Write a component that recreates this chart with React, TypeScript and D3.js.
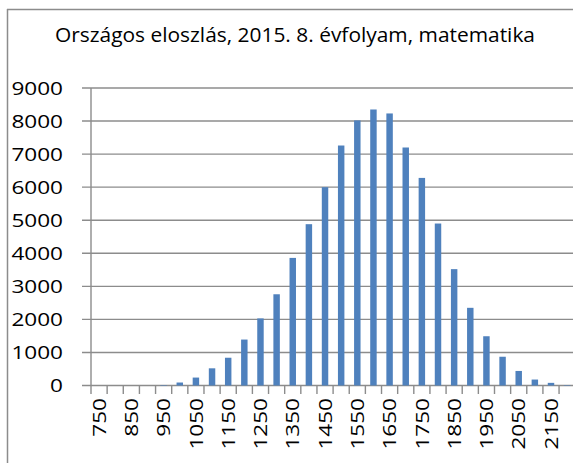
import * as d3 from "d3";

// chart values
const categories = [
  "750", "800", "850", "900", "950", "1000", "1050", "1100", "1150", "1200",
  "1250", "1300", "1350", "1400", "1450", "1500", "1550", "1600", "1650", "1700",
  "1750", "1800", "1850", "1900", "1950", "2000", "2050", "2100", "2150", "2200",
];
const counts = [
  0, 0, 0, 0, 15, 90, 240, 520, 840, 1390,
  2030, 2760, 3860, 4880, 6000, 7260, 8020, 8350, 8230, 7200,
  6280, 4900, 3520, 2350, 1490, 870, 440, 180, 80, 15,
];
const yTicks = [0, 1000, 2000, 3000, 4000, 5000, 6000, 7000, 8000, 9000];
const title = "Országos eloszlás, 2015. 8. évfolyam, matematika";

export default function App() {
  const width = 573;
  const height = 463;
  const left = 91;
  const right = 575.2;
  const top = 88;
  const bottom = 385.5;

  const font = "'Open Sans', 'DejaVu Sans', sans-serif";
  const grid = "#8c8c8c";

  const x = d3
    .scaleBand()
    .domain(categories)
    .range([left, right])
    .paddingInner(0.6)
    .paddingOuter(0.3);

  const y = d3.scaleLinear().domain([0, 9000]).range([bottom, top]);

  const step = x.step();
  const center = (c) => (x(c) ?? 0) + x.bandwidth() / 2;

  return (
    <svg
      width={width}
      height={height}
      style={{ position: "absolute", left: 0, top: 0, background: "#fff" }}
    >
      {/* frame */}
      <line x1={7.5} x2={7.5} y1={9} y2={470} stroke={grid} strokeWidth={1.5} />
      <line x1={7} x2={580} y1={9.5} y2={9.5} stroke={grid} strokeWidth={1.5} />

      {/* title */}
      <text
        x={55}
        y={42}
        fontSize={20}
        fontFamily={font}
        fill="#000"
        textLength={480}
        lengthAdjust="spacingAndGlyphs"
      >
        {title}
      </text>

      {/* gridlines + y labels */}
      {yTicks.map((t) => (
        <g key={t}>
          <line
            x1={82}
            x2={right}
            y1={y(t)}
            y2={y(t)}
            stroke={grid}
            strokeWidth={1.4}
          />
          <text
            x={63}
            y={y(t)}
            dy="0.36em"
            textAnchor="end"
            fontSize={18.5}
            fontFamily={font}
            fill="#000"
            textLength={String(t).length * 12.9}
            lengthAdjust="spacingAndGlyphs"
          >
            {t}
          </text>
        </g>
      ))}

      {/* y axis */}
      <line x1={left} x2={left} y1={top} y2={bottom} stroke={grid} strokeWidth={1.4} />

      {/* x tick marks between categories */}
      {d3.range(categories.length + 1).map((i) => (
        <line
          key={i}
          x1={left + step * i}
          x2={left + step * i}
          y1={bottom}
          y2={bottom + 8.5}
          stroke={grid}
          strokeWidth={1.4}
        />
      ))}

      {/* bars */}
      {categories.map((c, i) => (
        <rect
          key={c}
          x={x(c)}
          y={y(counts[i])}
          width={x.bandwidth()}
          height={bottom - y(counts[i])}
          fill="#4f81bd"
        />
      ))}

      {/* x labels, every other category */}
      {categories
        .filter((_, i) => i % 2 === 0)
        .map((c) => (
          <text
            key={c}
            transform={`translate(${center(c)},${398}) rotate(-90)`}
            dy="0.36em"
            textAnchor="end"
            fontSize={18.5}
            fontFamily={font}
            fill="#000"
            textLength={c.length * 12.9}
            lengthAdjust="spacingAndGlyphs"
          >
            {c}
          </text>
        ))}
    </svg>
  );
}
